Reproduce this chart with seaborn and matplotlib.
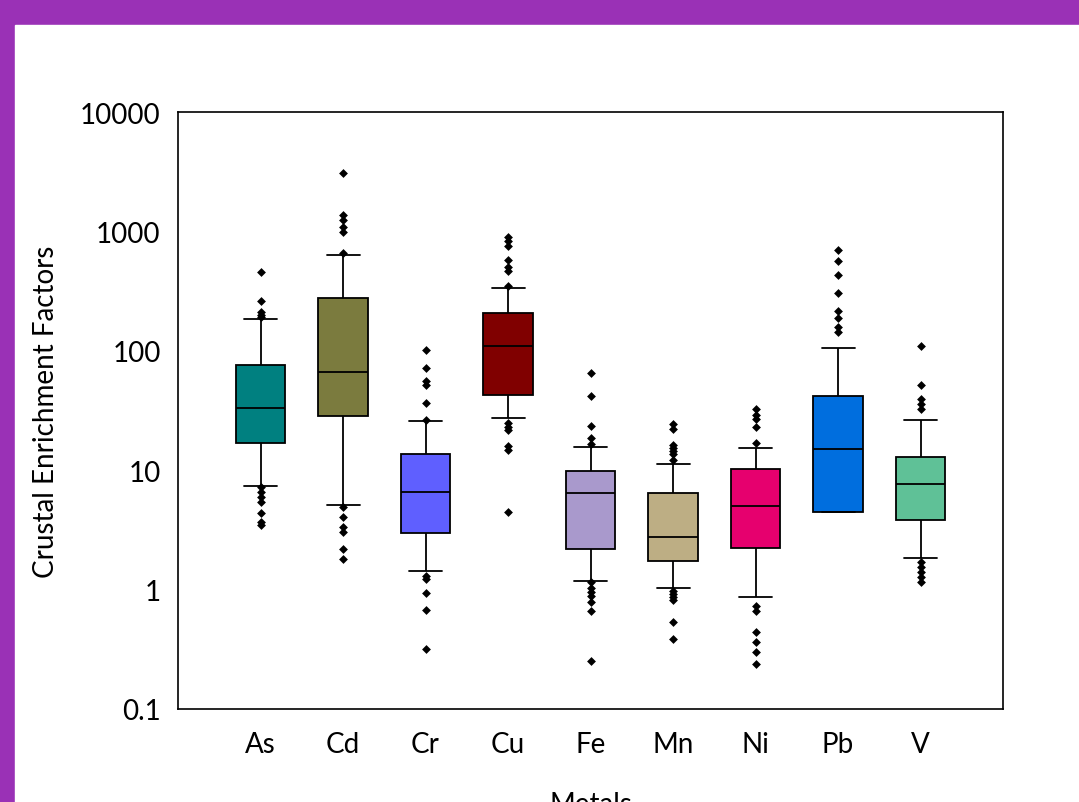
import matplotlib
matplotlib.use("Agg")
import matplotlib.pyplot as plt
import matplotlib.patches as mpatches
from matplotlib.ticker import NullLocator
import pandas as pd
import seaborn as sns

metals = ["As", "Cd", "Cr", "Cu", "Fe", "Mn", "Ni", "Pb", "V"]
colors = ["#008080", "#7b7b3e", "#5f5fff", "#800000", "#a999cc",
          "#bdae84", "#e6006e", "#006ede", "#5fc197"]

# box summaries (whiskers = 10th / 90th percentiles)
whisker_low = [7.4, 5.1, 1.44, 27.2, 1.17, 1.04, 0.86, 4.5, 1.85]
q1 = [17.0, 28.6, 3.0, 42.9, 2.2, 1.73, 2.23, 4.5, 3.83]
median = [33.2, 66.1, 6.6, 110, 6.4, 2.74, 5.04, 15.1, 7.66]
q3 = [76.6, 277, 13.6, 209, 9.9, 6.44, 10.2, 41.8, 12.8]
whisker_high = [185, 631, 25.7, 338, 15.7, 11.2, 15.3, 106, 26.5]

# outlying points
as_out = [457, 263, 211, 200, 192, 7.2, 6.56, 5.97, 5.45, 4.41, 3.68, 3.49]
cd_out = [3085, 1372, 1253, 1089, 989, 659, 4.89, 4.03, 3.34, 3.03, 2.19, 1.80]
cr_out = [101, 72, 56, 52, 36.5, 26.5, 1.31, 1.23, 0.94, 0.67, 0.32]
cu_out = [893, 831, 755, 579, 500, 469, 347, 24.8, 23.0, 21.7, 15.9, 14.8, 4.49]
fe_out = [65, 42, 23.3, 18.7, 16.6, 1.15, 1.03, 0.95, 0.88, 0.78, 0.66, 0.25]
mn_out = [24.4, 22.1, 16.3, 15.3, 14.5, 13.7, 12.2, 0.97, 0.92, 0.87, 0.82, 0.54, 0.385]
ni_out = [32.6, 29.0, 26.8, 22.9, 16.9, 0.733, 0.666, 0.444, 0.362, 0.299, 0.238]
pb_out = [698, 569, 434, 305, 217, 187, 157, 145]
v_out = [110, 51.7, 39.5, 35.8, 32.6, 1.70, 1.55, 1.40, 1.28, 1.16]

ytick_values = [0.1, 1, 10, 100, 1000, 10000]
ytick_labels = ["0.1", "1", "10", "100", "1000", "10000"]

sns.set_style("white")
plt.rcParams["font.family"] = ["Lato", "DejaVu Sans"]
plt.rcParams["axes.edgecolor"] = "black"
plt.rcParams["text.color"] = "black"
plt.rcParams["axes.labelcolor"] = "black"
plt.rcParams["xtick.color"] = "black"
plt.rcParams["ytick.color"] = "black"

box_rows = []
for i, m in enumerate(metals):
    for v in (whisker_low[i], q1[i], median[i], q3[i], whisker_high[i]):
        box_rows.append({"metal": m, "value": v})
box_df = pd.DataFrame(box_rows)

out_lists = [as_out, cd_out, cr_out, cu_out, fe_out, mn_out, ni_out, pb_out, v_out]
out_df = pd.DataFrame(
    [{"metal": m, "value": v} for m, vals in zip(metals, out_lists) for v in vals]
)

fig = plt.figure(figsize=(10.79, 8.03), dpi=100, facecolor="#9a31b6")
fig.patches.append(
    mpatches.Rectangle((15 / 1079, 0), 1, (803 - 26) / 803,
                       transform=fig.transFigure, color="white", zorder=-10)
)
ax = fig.add_axes([178 / 1079, 93 / 803, 825 / 1079, 597 / 803])
ax.set_yscale("log")

sns.boxplot(
    data=box_df, x="metal", y="value", hue="metal", order=metals,
    hue_order=metals, palette=colors, saturation=1, legend=False,
    whis=(0, 100), showfliers=False, width=0.6, linecolor="black",
    linewidth=1.3, capwidths=0.4, ax=ax,
)
sns.stripplot(
    data=out_df, x="metal", y="value", order=metals, color="black",
    marker="D", size=4.5, jitter=False, linewidth=0, ax=ax, zorder=3,
)

ax.set_xlim(-1, 9)
ax.set_ylim(0.1, 10000)
ax.set_yticks(ytick_values)
ax.set_yticklabels(ytick_labels)
ax.yaxis.set_minor_locator(NullLocator())
ax.tick_params(axis="both", direction="in", length=6.5, width=1,
               labelsize=20, color="black", labelcolor="black")
ax.tick_params(axis="x", pad=16)
ax.tick_params(axis="y", pad=12.5)
for s in ax.spines.values():
    s.set_linewidth(1.2)
    s.set_color("black")

ax.set_xlabel("Metals", fontsize=20, labelpad=24)
ax.set_ylabel("Crustal Enrichment Factors", fontsize=20, labelpad=15)

fig.savefig("out.png", dpi=100, facecolor=fig.get_facecolor())
